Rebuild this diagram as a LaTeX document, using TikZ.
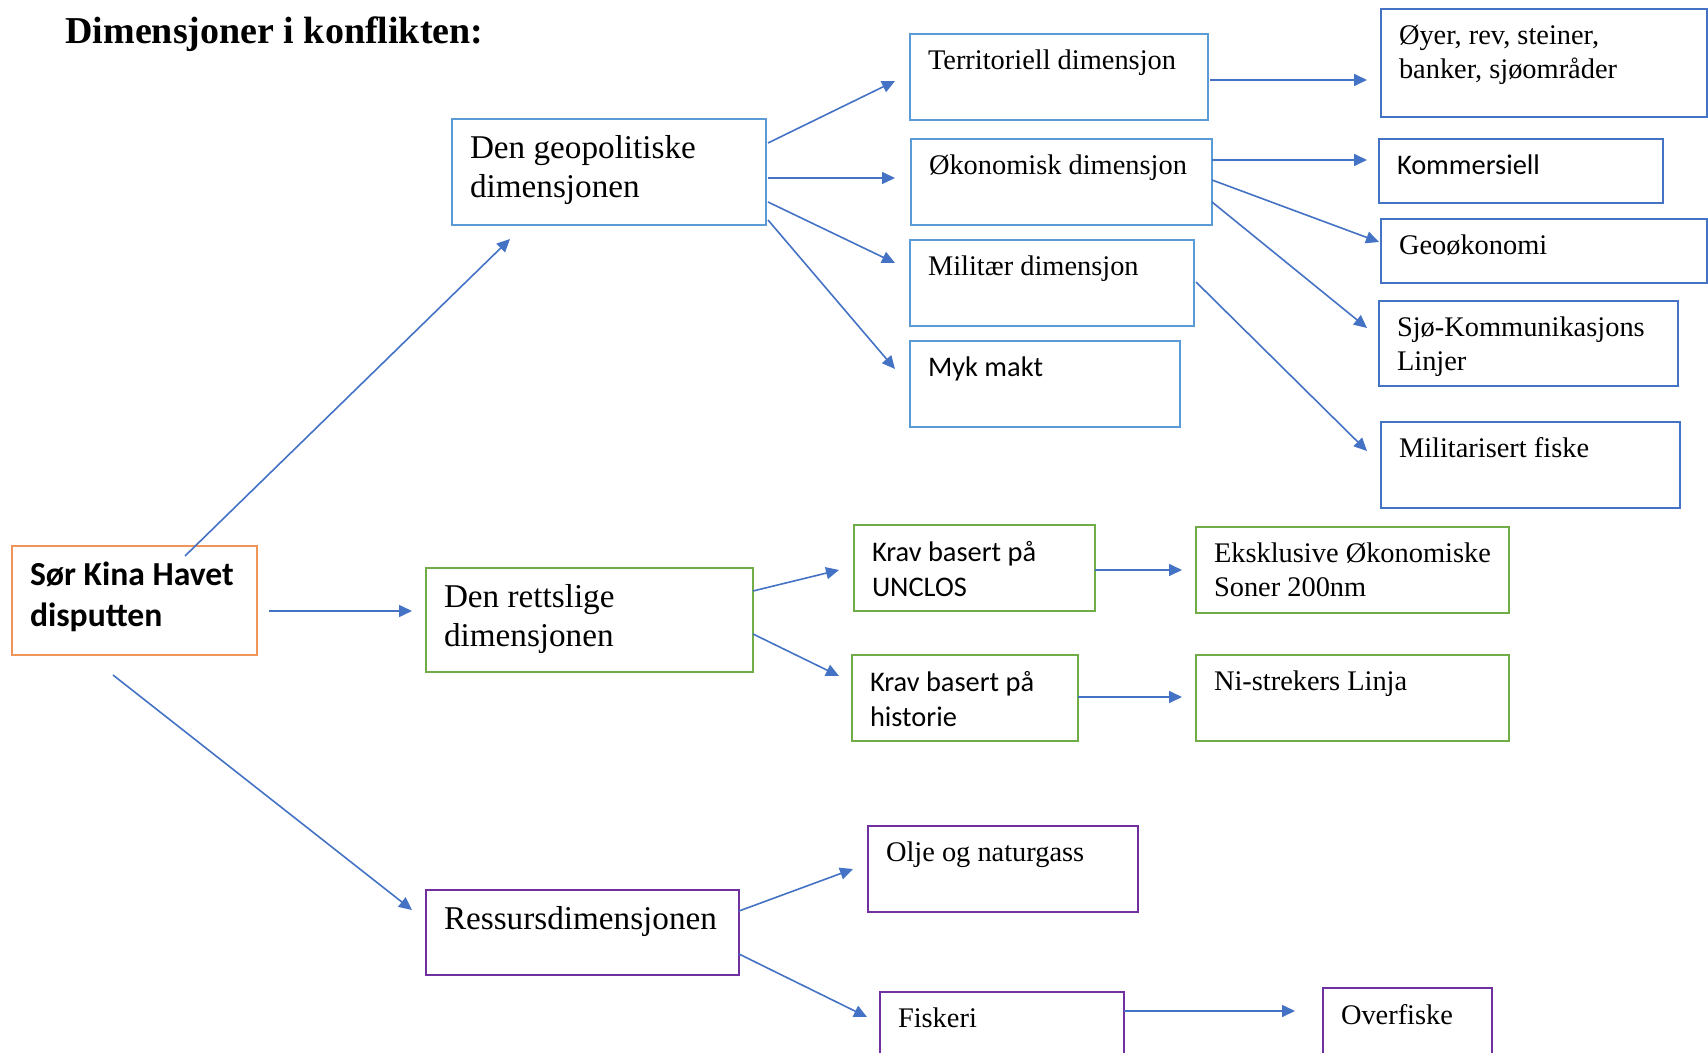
\documentclass[tikz,border=0pt]{standalone}
\usepackage{fontspec}
\setmainfont{Liberation Serif}
\newfontfamily\calibri{Carlito}
\usepackage{tikz}
\usetikzlibrary{arrows.meta}

\definecolor{lyseblaa}{HTML}{5B9BD5}
\definecolor{moerkblaa}{HTML}{4472C4}
\definecolor{groenn}{HTML}{70AD47}
\definecolor{lilla}{HTML}{7030A0}
\definecolor{oransje}{HTML}{F0955A}

% box content: width and height in px
\newcommand{\innhold}[3]{\parbox[t][\dimexpr#2pt/2-16pt\relax][t]{\dimexpr#1pt/2-18pt\relax}{\raggedright #3}}

\tikzset{
  boks/.style={draw, rectangle, anchor=north west, inner xsep=9pt, inner ysep=8pt, outer sep=0pt, line width=1pt, fill=white},
  stor/.style={font=\fontsize{16.6}{19.5}\selectfont},
  liten/.style={font=\fontsize{14.2}{17}\selectfont},
  kal/.style={font=\calibri\fontsize{14.2}{17.5}\selectfont},
  blaaboks/.style={boks, draw=lyseblaa},
  moerkboks/.style={boks, draw=moerkblaa},
  groennboks/.style={boks, draw=groenn},
  lillaboks/.style={boks, draw=lilla},
  oransjeboks/.style={boks, draw=oransje, line width=1.2pt},
  tittel/.style={anchor=base west, inner sep=0pt, font=\bfseries\fontsize{19}{22}\selectfont},
  pil/.style={draw=moerkblaa, line width=0.8pt, -{Triangle[length=6.5pt,width=6pt]}}
}

\begin{document}
\begin{tikzpicture}[x=0.5pt,y=0.5pt,yscale=-1,xscale=1]
\path[use as bounding box] (0,0) rectangle (1708,1053);
\clip (0,0) rectangle (1708,1053);

% Text Node
\node[tittel] (tittel) at (65,44) {Dimensjoner i konflikten:};

%Shape: Rectangle
\node[oransjeboks, font=\calibri\bfseries\fontsize{16.8}{20.5}\selectfont] (sor) at (12,546) {\innhold{245}{109}{\mbox{Sør Kina Havet}\\disputten}};

%Shape: Rectangle
\node[blaaboks, stor] (geo) at (452,119) {\innhold{314}{106}{Den geopolitiske\\dimensjonen}};
%Shape: Rectangle
\node[groennboks, stor] (rett) at (426,568) {\innhold{327}{104}{Den rettslige\\dimensjonen}};
%Shape: Rectangle
\node[lillaboks, stor] (ress) at (426,890) {\innhold{313}{85}{Ressursdimensjonen}};

%Shape: Rectangle
\node[blaaboks, liten] (terr) at (910,34) {\innhold{298}{86}{Territoriell dimensjon}};
%Shape: Rectangle
\node[blaaboks, liten] (oko) at (911,139) {\innhold{301}{86}{\mbox{Økonomisk dimensjon}}};
%Shape: Rectangle
\node[blaaboks, liten] (mil) at (910,240) {\innhold{284}{86}{Militær dimensjon}};
%Shape: Rectangle
\node[blaaboks, kal] (myk) at (910,341) {\innhold{270}{86}{Myk makt}};

%Shape: Rectangle
\node[moerkboks, liten] (oyer) at (1381,9) {\innhold{326}{108}{Øyer, rev, steiner,\\banker, sjøområder}};
%Shape: Rectangle
\node[moerkboks, kal] (komm) at (1379,139) {\innhold{284}{64}{Kommersiell}};
%Shape: Rectangle
\node[moerkboks, liten] (geook) at (1381,219) {\innhold{326}{64}{Geoøkonomi}};
%Shape: Rectangle
\node[moerkboks, liten] (sjo) at (1379,301) {\innhold{299}{85}{Sjø-Kommunikasjons\\Linjer}};
%Shape: Rectangle
\node[moerkboks, liten] (milfisk) at (1381,422) {\innhold{299}{86}{Militarisert fiske}};

%Shape: Rectangle
\node[groennboks, kal] (unclos) at (854,525) {\innhold{241}{86}{Krav basert på\\UNCLOS}};
%Shape: Rectangle
\node[groennboks, kal] (hist) at (852,655) {\innhold{226}{86}{Krav basert på\\historie}};
%Shape: Rectangle
\node[groennboks, liten] (eez) at (1196,527) {\innhold{313}{86}{Eksklusive Økonomiske\\Soner 200nm}};
%Shape: Rectangle
\node[groennboks, liten] (nilinje) at (1196,655) {\innhold{313}{86}{Ni-strekers Linja}};

%Shape: Rectangle
\node[lillaboks, liten] (olje) at (868,826) {\innhold{270}{86}{Olje og naturgass}};
%Shape: Rectangle
\node[lillaboks, liten] (fisk) at (880,992) {\innhold{244}{86}{Fiskeri}};
%Shape: Rectangle
\node[lillaboks, liten] (overf) at (1323,988) {\innhold{169}{86}{Overfiske}};

%Straight Lines
\draw[pil] ([shift={(173,10)}]sor.north west) -- ([shift={(58,14)}]geo.south west);
\draw[pil] ([shift={(12,10.5)}]sor.east) -- ([shift={(-14,-9)}]rett.west);
\draw[pil] ([shift={(101,20)}]sor.south west) -- ([shift={(-14,20)}]ress.north west);

%Straight Lines
\draw[pil] ([shift={(2,24)}]geo.north east) -- ([shift={(-15,47)}]terr.north west);
\draw[pil] ([shift={(2,59)}]geo.north east) -- ([shift={(-16,39)}]oko.north west);
\draw[pil] ([shift={(2,83)}]geo.north east) -- ([shift={(-15,23)}]mil.north west);
\draw[pil] ([shift={(2,101)}]geo.north east) -- ([shift={(-15,28)}]myk.north west);

%Straight Lines
\draw[pil] ([shift={(2,46)}]terr.north east) -- ([shift={(-14,71)}]oyer.north west);
\draw[pil] ([shift={(0,21)}]oko.north east) -- ([shift={(-12,21)}]komm.north west);
\draw[pil] ([shift={(0,41)}]oko.north east) -- ([shift={(-2,23)}]geook.north west);
\draw[pil] ([shift={(0,63)}]oko.north east) -- ([shift={(-12,27)}]sjo.north west);
\draw[pil] ([shift={(2,42)}]mil.north east) -- ([shift={(-14,29)}]milfisk.north west);

%Straight Lines
\draw[pil] ([shift={(0,23)}]rett.north east) -- ([shift={(-15,45)}]unclos.north west);
\draw[pil] ([shift={(0,66)}]rett.north east) -- ([shift={(-13,21)}]hist.north west);
\draw[pil] ([shift={(0,45)}]unclos.north east) -- ([shift={(-14,43)}]eez.north west);
\draw[pil] ([shift={(0,42)}]hist.north east) -- ([shift={(-14,42)}]nilinje.north west);

%Straight Lines
\draw[pil] ([shift={(0,21)}]ress.north east) -- ([shift={(-15,43)}]olje.north west);
\draw[pil] ([shift={(0,64)}]ress.north east) -- ([shift={(-13,25)}]fisk.north west);
\draw[pil] ([shift={(0,19)}]fisk.north east) -- ([shift={(-28,23)}]overf.north west);

\end{tikzpicture}
\end{document}
